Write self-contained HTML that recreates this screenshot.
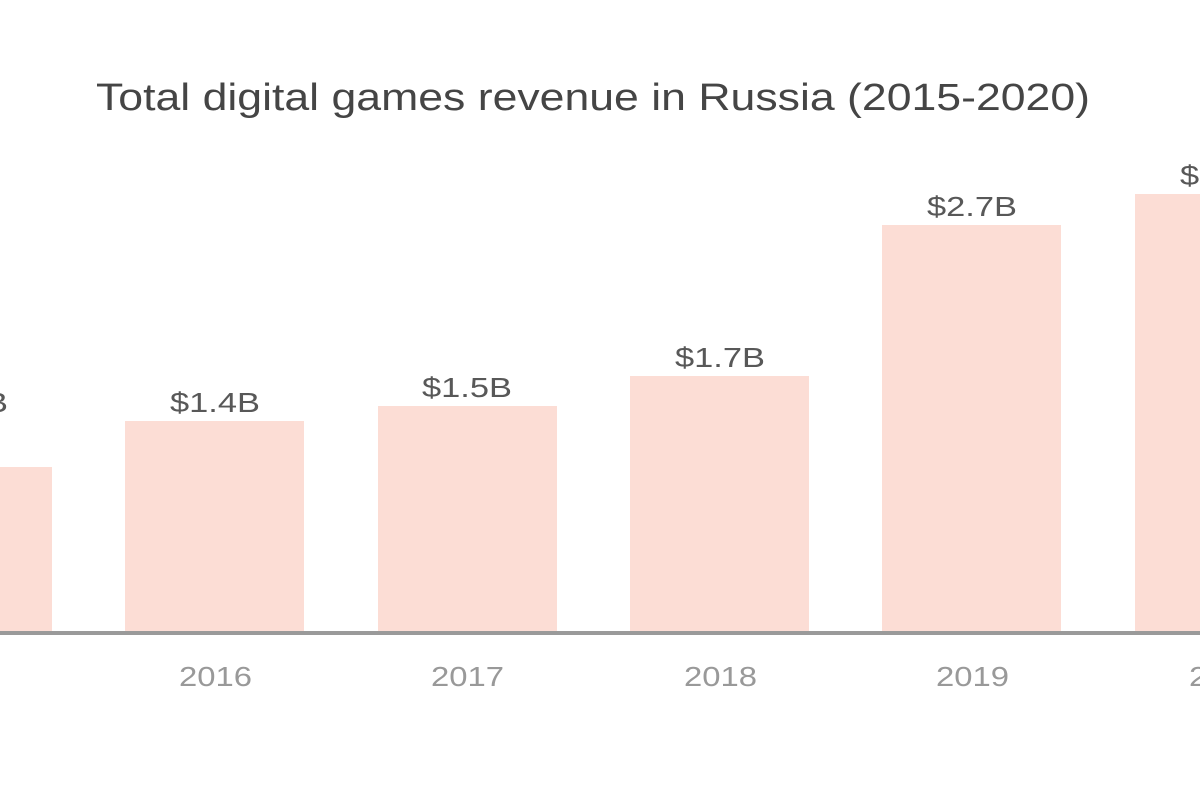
<!DOCTYPE html>
<html><head><style>
html,body{margin:0;padding:0;background:#fff;}
svg{display:block;}
</style></head><body>
<svg width="1200" height="800" xmlns="http://www.w3.org/2000/svg" font-family="'Liberation Sans', sans-serif">
<rect width="1200" height="800" fill="#fff"/>
<text x="96" y="110" font-size="38" fill="#454545" textLength="994" lengthAdjust="spacingAndGlyphs">Total digital games revenue in Russia (2015-2020)</text>
<g fill="#fcddd5">
<rect x="-127" y="467" width="179" height="167"/>
<rect x="125" y="421" width="179" height="213"/>
<rect x="378" y="406" width="179" height="228"/>
<rect x="630" y="376" width="179" height="258"/>
<rect x="882" y="225" width="179" height="409"/>
<rect x="1135" y="194" width="179" height="440"/>
</g>
<rect x="0" y="631" width="1200" height="4" fill="#9a9a9a"/>
<g font-size="28" fill="#585858">
<text x="-82" y="412" textLength="90" lengthAdjust="spacingAndGlyphs">$1.1B</text>
<text x="170" y="412" textLength="90" lengthAdjust="spacingAndGlyphs">$1.4B</text>
<text x="422" y="397" textLength="90" lengthAdjust="spacingAndGlyphs">$1.5B</text>
<text x="675" y="367" textLength="90" lengthAdjust="spacingAndGlyphs">$1.7B</text>
<text x="927" y="216" textLength="90" lengthAdjust="spacingAndGlyphs">$2.7B</text>
<text x="1180" y="185" textLength="90" lengthAdjust="spacingAndGlyphs">$2.9B</text>
</g>
<g font-size="28" fill="#999">
<text x="-73" y="686" textLength="73" lengthAdjust="spacingAndGlyphs">2015</text>
<text x="179" y="686" textLength="73" lengthAdjust="spacingAndGlyphs">2016</text>
<text x="431" y="686" textLength="73" lengthAdjust="spacingAndGlyphs">2017</text>
<text x="684" y="686" textLength="73" lengthAdjust="spacingAndGlyphs">2018</text>
<text x="936" y="686" textLength="73" lengthAdjust="spacingAndGlyphs">2019</text>
<text x="1189" y="686" textLength="73" lengthAdjust="spacingAndGlyphs">2020</text>
</g>
</svg>
</body></html>
